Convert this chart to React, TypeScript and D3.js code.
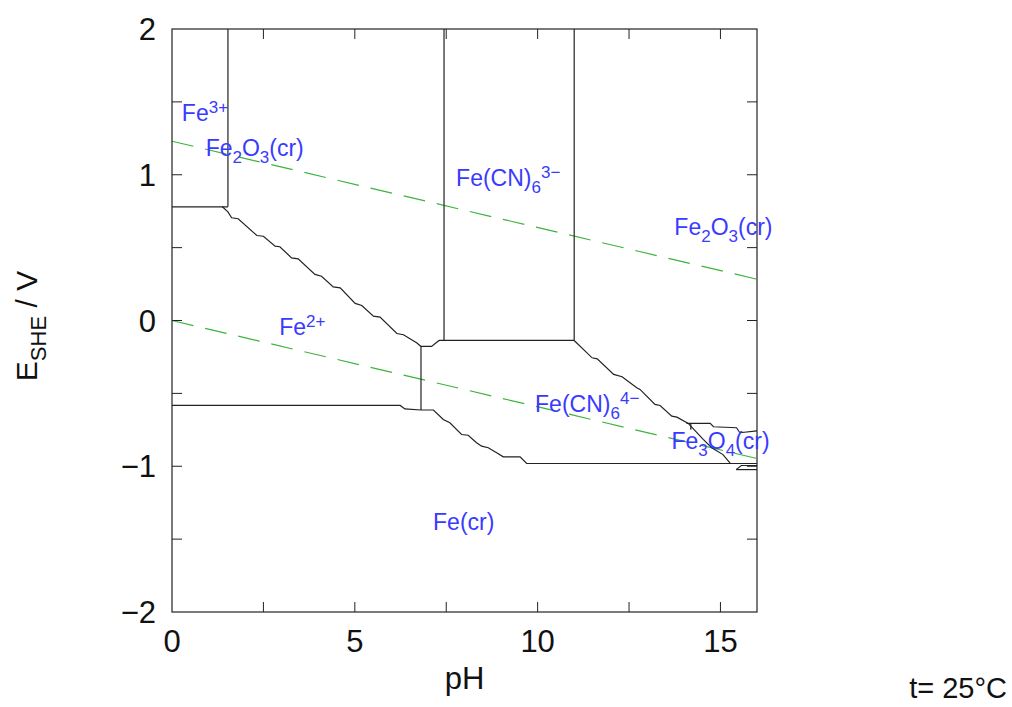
import React from "react";
import * as d3 from "d3";

type P = [number, number];

// ---- data (pH, E in V) ----
const xTicks = [0, 2.5, 5, 7.5, 10, 12.5, 15, 16];
const xTickLabels = [0, 5, 10, 15];
const yTicks = [-2, -1.5, -1, -0.5, 0, 0.5, 1, 1.5, 2];
const yTickLabels = [-2, -1, 0, 1, 2];

const waterUpper: P[] = [[0, 1.23], [16, 0.283]];
const waterLower: P[] = [[0, 0], [16, -0.947]];

const fe3Fe2: P[] = [[0, 0.78], [1.53, 0.78]];
const fe3Fe2o3: P[] = [[1.53, 2], [1.53, 0.78]];
const fe2o3Fe2: P[] = [
  [1.37, 0.782], [1.53, 0.745], [1.63, 0.705], [1.81, 0.698], [2.32, 0.583], [2.5, 0.578],
  [2.82, 0.51], [2.95, 0.506], [3.27, 0.43], [3.45, 0.423], [3.91, 0.316], [4.09, 0.304],
  [4.41, 0.231], [4.6, 0.224], [5.01, 0.117], [5.19, 0.103], [5.51, 0.03], [5.69, 0.023],
  [6.15, -0.089], [6.33, -0.098], [6.69, -0.153], [6.81, -0.178],
];
const fe2o3FeCN4: P[] = [[6.81, -0.178], [7.1, -0.178], [7.24, -0.149], [7.31, -0.137], [7.44, -0.137]];
const fe2FeCN4: P[] = [[6.81, -0.178], [6.81, -0.614]];
const feCN3Left: P[] = [[7.44, 2], [7.44, -0.137]];
const feCN3Bottom: P[] = [[7.44, -0.137], [11.0, -0.137]];
const feCN3Right: P[] = [[11.0, 2], [11.0, -0.137]];
const fe2Fe: P[] = [[0, -0.583], [6.24, -0.583], [6.37, -0.607], [6.81, -0.614]];
const feCN4Fe: P[] = [
  [6.81, -0.614], [7.15, -0.614], [7.42, -0.679], [7.6, -0.702], [7.92, -0.782], [8.1, -0.787],
  [8.33, -0.839], [8.47, -0.862], [8.65, -0.873], [8.88, -0.907], [9.06, -0.935], [9.52, -0.935],
  [9.7, -0.981], [16, -0.981],
];
const feCN4Oxide: P[] = [
  [11.0, -0.137], [11.49, -0.256], [11.63, -0.263], [12.08, -0.37], [12.31, -0.386],
  [12.71, -0.462], [12.8, -0.473], [13.21, -0.576], [13.35, -0.583], [13.67, -0.656],
  [13.81, -0.663], [14.12, -0.706], [14.53, -0.816], [14.76, -0.873], [15.07, -0.92],
  [15.27, -0.981],
];
const fe3o4Upper: P[] = [
  [14.07, -0.706], [14.72, -0.706], [14.81, -0.729], [15.44, -0.736], [15.53, -0.77], [16, -0.757],
];
const fe3o4Step: P[] = [[14.19, -0.706], [14.19, -0.75]];
const fe3o4Lower: P[] = [[15.43, -1.023], [15.57, -0.995], [16, -0.995]];
const fe3o4Lower2: P[] = [[15.43, -1.023], [16, -1.023]];

const boundaries: P[][] = [
  fe3Fe2, fe3Fe2o3, fe2o3Fe2, fe2o3FeCN4, fe2FeCN4, feCN3Left, feCN3Bottom, feCN3Right,
  fe2Fe, feCN4Fe, feCN4Oxide, fe3o4Upper, fe3o4Step, fe3o4Lower, fe3o4Lower2,
];

type Part = { t: string; s?: "sub" | "sup" };
type Lab = { x: number; y: number; parts: Part[] };
// label anchor positions (pH, E) of the baseline start
const speciesLabels: Lab[] = [
  { x: 0.27, y: 1.37, parts: [{ t: "Fe" }, { t: "3+", s: "sup" }] },
  { x: 0.92, y: 1.13, parts: [{ t: "Fe" }, { t: "2", s: "sub" }, { t: "O" }, { t: "3", s: "sub" }, { t: "(cr)" }] },
  { x: 7.77, y: 0.92, parts: [{ t: "Fe(CN)" }, { t: "6", s: "sub" }, { t: "3\u2212", s: "sup" }] },
  { x: 13.74, y: 0.59, parts: [{ t: "Fe" }, { t: "2", s: "sub" }, { t: "O" }, { t: "3", s: "sub" }, { t: "(cr)" }] },
  { x: 2.93, y: -0.1, parts: [{ t: "Fe" }, { t: "2+", s: "sup" }] },
  { x: 9.93, y: -0.63, parts: [{ t: "Fe(CN)" }, { t: "6", s: "sub" }, { t: "4\u2212", s: "sup" }] },
  { x: 13.66, y: -0.88, parts: [{ t: "Fe" }, { t: "3", s: "sub" }, { t: "O" }, { t: "4", s: "sub" }, { t: "(cr)" }] },
  { x: 7.14, y: -1.44, parts: [{ t: "Fe(cr)" }] },
];

const W = 1012;
const H = 707;
const left = 172, right = 757, top = 29, bottom = 612;
const FONT = "'Liberation Sans', Arial, sans-serif";
const MAIN = 23;
const SMALL = 17;

export default function App() {
  const x = d3.scaleLinear().domain([0, 16]).range([left, right]);
  const y = d3.scaleLinear().domain([-2, 2]).range([bottom, top]);
  const line = d3.line<P>().x((d) => x(d[0])).y((d) => y(d[1]));
  const tl = 10;

  const renderParts = (parts: Part[]) => {
    let cur = 0;
    return parts.map((p, i) => {
      const target = p.s === "sub" ? 7 : p.s === "sup" ? -8 : 0;
      const dy = target - cur;
      cur = target;
      return (
        <tspan key={i} dy={dy} fontSize={p.s ? SMALL : MAIN}>
          {p.t}
        </tspan>
      );
    });
  };

  return (
    <div style={{ position: "absolute", left: 0, top: 0 }}>
      <svg width={W} height={H} style={{ display: "block", background: "#fff" }} fontFamily={FONT}>
        {/* water lines */}
        {[waterUpper, waterLower].map((d, i) => (
          <path key={"w" + i} d={line(d) || ""} fill="none" stroke="#3cb43c" strokeWidth={1.2} strokeDasharray="22,12" />
        ))}
        {/* boundaries */}
        {boundaries.map((d, i) => (
          <path key={"b" + i} d={line(d) || ""} fill="none" stroke="#222" strokeWidth={1.2} />
        ))}
        {/* frame */}
        <rect x={left} y={top} width={right - left} height={bottom - top} fill="none" stroke="#222" strokeWidth={1.2} />
        {/* ticks */}
        {xTicks.filter((t) => t > 0 && t < 16).map((t) => (
          <g key={"xt" + t}>
            <line x1={x(t)} x2={x(t)} y1={bottom} y2={bottom - tl} stroke="#222" />
            <line x1={x(t)} x2={x(t)} y1={top} y2={top + tl} stroke="#222" />
          </g>
        ))}
        {yTicks.filter((t) => t > -2 && t < 2).map((t) => (
          <g key={"yt" + t}>
            <line x1={left} x2={left + tl} y1={y(t)} y2={y(t)} stroke="#222" />
            <line x1={right} x2={right - tl} y1={y(t)} y2={y(t)} stroke="#222" />
          </g>
        ))}
        {xTickLabels.map((t) => (
          <text key={"xl" + t} x={x(t)} y={bottom + 40} textAnchor="middle" fontSize={31} fill="#111">
            {String(t)}
          </text>
        ))}
        {yTickLabels.map((t) => (
          <text key={"yl" + t} x={left - 16} y={y(t) + 11} textAnchor="end" fontSize={31} fill="#111">
            {t < 0 ? "\u2212" + Math.abs(t) : String(t)}
          </text>
        ))}
        <text x={(left + right) / 2} y={bottom + 77} textAnchor="middle" fontSize={31} fill="#111">
          pH
        </text>
        <text transform={`translate(37, 326) rotate(-90)`} textAnchor="middle" fontSize={30} fill="#111">
          <tspan>E</tspan>
          <tspan dy={9} fontSize={22}>SHE</tspan>
          <tspan dy={-9}> / V</tspan>
        </text>
        <text x={1007} y={698} textAnchor="end" fontSize={29} fill="#111">
          t= 25°C
        </text>
        {/* species labels */}
        {speciesLabels.map((l, i) => (
          <text key={"s" + i} x={x(l.x)} y={y(l.y)} fill="#3a3aff" fontSize={MAIN}>
            {renderParts(l.parts)}
          </text>
        ))}
      </svg>
    </div>
  );
}
